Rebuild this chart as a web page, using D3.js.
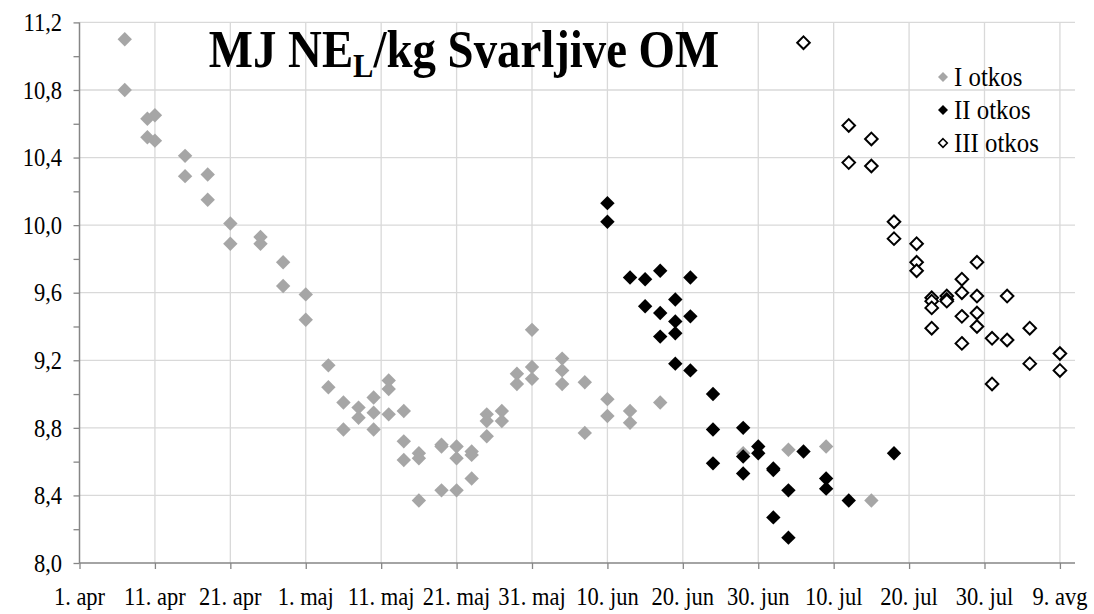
<!DOCTYPE html>
<html>
<head>
<meta charset="utf-8">
<script src="https://cdn.jsdelivr.net/npm/d3@7"></script>
<style>
  html, body { margin: 0; padding: 0; background: #fff; }
  svg { display: block; }
</style>
</head>
<body>
<svg id="chart" width="1094" height="614"></svg>
<script>
// ---- data (x = days after 1. apr) ----
const xTickDays = [0, 10, 20, 30, 40, 50, 60, 70, 80, 90, 100, 110, 120, 130];
const xTickLabels = ["1. apr", "11. apr", "21. apr", "1. maj", "11. maj", "21. maj", "31. maj",
                     "10. jun", "20. jun", "30. jun", "10. jul", "20. jul", "30. jul", "9. avg"];
const yTicks = [8.0, 8.4, 8.8, 9.2, 9.6, 10.0, 10.4, 10.8, 11.2];
const yTickLabels = ["8,0", "8,4", "8,8", "9,2", "9,6", "10,0", "10,4", "10,8", "11,2"];
const seriesNames = ["I otkos", "II otkos", "III otkos"];

const seriesI = [
  [6, 11.10], [6, 10.80], [9, 10.63], [9, 10.52], [10, 10.65], [10, 10.50],
  [14, 10.41], [14, 10.29], [17, 10.30], [17, 10.15], [20, 10.01], [20, 9.89],
  [24, 9.93], [24, 9.89], [27, 9.78], [27, 9.64], [30, 9.59], [30, 9.44],
  [33, 9.17], [33, 9.04], [35, 8.95], [35, 8.79], [37, 8.92], [37, 8.86],
  [39, 8.98], [39, 8.89], [39, 8.79], [41, 9.08], [41, 9.03], [41, 8.88],
  [43, 8.90], [43, 8.72], [43, 8.61], [45, 8.65], [45, 8.62], [45, 8.37],
  [48, 8.70], [48, 8.69], [48, 8.43], [50, 8.69], [50, 8.62], [50, 8.43],
  [52, 8.66], [52, 8.64], [52, 8.50], [54, 8.88], [54, 8.84], [54, 8.75],
  [56, 8.90], [56, 8.84], [58, 9.12], [58, 9.06], [60, 9.38], [60, 9.16], [60, 9.09],
  [64, 9.21], [64, 9.14], [64, 9.06], [67, 9.07], [67, 8.77], [70, 8.97], [70, 8.87],
  [73, 8.90], [73, 8.83], [77, 8.95], [88, 8.65], [94, 8.67], [99, 8.69], [105, 8.37]
];
const seriesII = [
  [70, 10.13], [70, 10.02], [73, 9.69], [75, 9.68], [75, 9.52],
  [77, 9.73], [77, 9.48], [77, 9.34], [79, 9.56], [79, 9.43], [79, 9.36], [79, 9.18],
  [81, 9.69], [81, 9.46], [81, 9.14], [84, 9.00], [84, 8.79], [84, 8.59],
  [88, 8.80], [88, 8.63], [88, 8.53], [90, 8.69], [90, 8.65],
  [92, 8.56], [92, 8.55], [92, 8.27], [94, 8.43], [94, 8.15], [96, 8.66],
  [99, 8.50], [99, 8.44], [102, 8.37], [108, 8.65]
];
const seriesIII = [
  [96, 11.08], [102, 10.59], [102, 10.37], [105, 10.51], [105, 10.35],
  [108, 10.02], [108, 9.92], [111, 9.89], [111, 9.78], [111, 9.73],
  [113, 9.57], [113, 9.55], [113, 9.51], [113, 9.39],
  [115, 9.58], [115, 9.56], [115, 9.55],
  [117, 9.68], [117, 9.60], [117, 9.46], [117, 9.30],
  [119, 9.78], [119, 9.58], [119, 9.48], [119, 9.40],
  [121, 9.33], [121, 9.06], [123, 9.58], [123, 9.32],
  [126, 9.39], [126, 9.18], [130, 9.24], [130, 9.14]
];

// ---- layout ----
const FONT = "'Liberation Serif', 'Times New Roman', Times, 'DejaVu Serif', serif";
const SX = 0.9; // horizontal text compression seen in the reference
const svg = d3.select("#chart");
const plot = { left: 79.5, right: 1075, top: 22.4, bottom: 563 };
const x = d3.scaleLinear().domain([0, 132]).range([plot.left, plot.right]);
const y = d3.scaleLinear().domain([8.0, 11.2]).range([plot.bottom, plot.top]);

const gridColor = "#d9d9d9";
const axisColor = "#868686";

// gridlines
svg.append("g").selectAll("line").data(yTicks.slice(1)).join("line")
  .attr("x1", plot.left).attr("x2", plot.right)
  .attr("y1", d => y(d)).attr("y2", d => y(d))
  .attr("stroke", gridColor).attr("stroke-width", 1.3);
svg.append("g").selectAll("line").data(xTickDays.slice(1)).join("line")
  .attr("x1", d => x(d)).attr("x2", d => x(d))
  .attr("y1", plot.top).attr("y2", plot.bottom)
  .attr("stroke", gridColor).attr("stroke-width", 1.3);

// y axis
const yMinor = d3.range(8.0, 11.2001, 0.2);
const yAxis = d3.axisLeft(y).tickValues(yMinor).tickSize(6).tickFormat("");
const gy = svg.append("g").attr("transform", `translate(${plot.left},0)`).call(yAxis);
gy.select(".domain").attr("stroke", axisColor).attr("stroke-width", 1.5).attr("d", `M0,${plot.top}V${plot.bottom}`);
gy.selectAll(".tick line").attr("stroke", axisColor).attr("stroke-width", 1.3);
svg.append("g").selectAll("text").data(yTicks).join("text")
  .attr("transform", d => `translate(62,${y(d)}) scale(${SX},1)`)
  .attr("dy", "0.35em")
  .attr("text-anchor", "end").attr("font-size", 25)
  .attr("font-family", FONT).attr("fill", "#000")
  .text((d, i) => yTickLabels[i]);

// x axis
const xAxis = d3.axisBottom(x).tickValues(xTickDays).tickSize(6).tickFormat("");
const gx = svg.append("g").attr("transform", `translate(0,${plot.bottom})`).call(xAxis);
gx.select(".domain").attr("stroke", axisColor).attr("stroke-width", 1.5).attr("d", `M${plot.left},0H${plot.right}`);
gx.selectAll(".tick line").attr("stroke", axisColor).attr("stroke-width", 1.3);
svg.append("g").selectAll("text").data(xTickDays).join("text")
  .attr("transform", d => `translate(${x(d)},605) scale(${SX},1)`)
  .attr("text-anchor", "middle").attr("font-size", 25)
  .attr("font-family", FONT).attr("fill", "#000")
  .text((d, i) => xTickLabels[i]);

// diamond path (square rotated 45deg)
const diamond = r => `M0,${-r}L${r},0L0,${r}L${-r},0Z`;

const styles = [
  { fill: "#a6a6a6", stroke: "none", sw: 0, r: 7.2 },
  { fill: "#000000", stroke: "none", sw: 0, r: 7.2 },
  { fill: "#ffffff", stroke: "#000000", sw: 2, r: 6.3 }
];
const allSeries = [seriesI, seriesII, seriesIII];

allSeries.forEach((s, i) => {
  const st = styles[i];
  svg.append("g").selectAll("path").data(s).join("path")
    .attr("transform", d => `translate(${x(d[0])},${y(d[1])})`)
    .attr("d", diamond(st.r))
    .attr("fill", st.fill)
    .attr("stroke", st.stroke)
    .attr("stroke-width", st.sw);
});

// title
const title = svg.append("text")
  .attr("transform", `translate(464,67) scale(${SX},1)`)
  .attr("text-anchor", "middle")
  .attr("font-family", FONT).attr("fill", "#000")
  .attr("font-size", 52).attr("font-weight", "bold");
title.append("tspan").text("MJ NE");
title.append("tspan").attr("font-size", 34).attr("dy", 10).text("L");
title.append("tspan").attr("dy", -10).text("/kg Svarljive OM");

// legend
const legendY = [77, 110, 143];
const lg = svg.append("g");
seriesNames.forEach((name, i) => {
  const st = styles[i];
  lg.append("path")
    .attr("transform", `translate(943,${legendY[i]})`)
    .attr("d", diamond(i === 2 ? 4.3 : 5))
    .attr("fill", st.fill).attr("stroke", st.stroke).attr("stroke-width", i === 2 ? 1.6 : 0);
  lg.append("text")
    .attr("transform", `translate(954,${legendY[i]}) scale(0.92,1)`)
    .attr("dy", "0.35em")
    .attr("font-family", FONT).attr("fill", "#000")
    .attr("font-size", 27)
    .text(name);
});
</script>
</body>
</html>
